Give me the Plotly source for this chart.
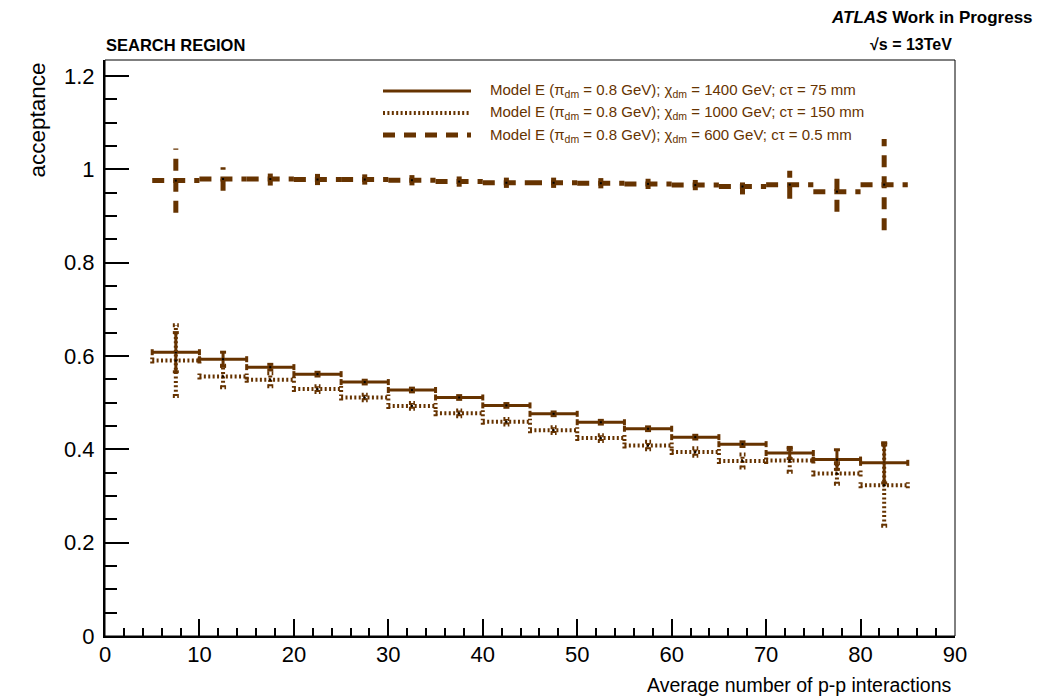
import plotly.graph_objects as go

# ---- data: acceptance vs. average pile-up, 5-wide bins ----
bin_centers = [7.5, 12.5, 17.5, 22.5, 27.5, 32.5, 37.5, 42.5,
               47.5, 52.5, 57.5, 62.5, 67.5, 72.5, 77.5, 82.5]
bin_half_width = 2.5

acc_1400 = [0.608, 0.593, 0.576, 0.561, 0.544, 0.527, 0.511, 0.494,
            0.476, 0.458, 0.444, 0.426, 0.411, 0.392, 0.378, 0.371]
err_1400 = [0.042, 0.015, 0.006, 0.004, 0.004, 0.004, 0.004, 0.004,
            0.004, 0.004, 0.004, 0.004, 0.005, 0.012, 0.021, 0.043]

acc_1000 = [0.590, 0.556, 0.549, 0.529, 0.511, 0.493, 0.477, 0.459,
            0.441, 0.424, 0.408, 0.394, 0.375, 0.376, 0.348, 0.323]
err_1000 = [0.076, 0.023, 0.014, 0.006, 0.006, 0.006, 0.006, 0.006,
            0.006, 0.006, 0.008, 0.008, 0.014, 0.024, 0.022, 0.087]

acc_600 = [0.9756, 0.979, 0.979, 0.978, 0.978, 0.9764, 0.9735, 0.971,
           0.971, 0.970, 0.9686, 0.966, 0.963, 0.967, 0.952, 0.967]
err_600 = [0.069, 0.025, 0.014, 0.012, 0.011, 0.011, 0.011, 0.011,
           0.011, 0.011, 0.011, 0.011, 0.017, 0.030, 0.043, 0.098]

legend_labels = [
    "Model E (\u03c0<sub>dm</sub> = 0.8 GeV); \u03c7<sub>dm</sub> = 1400 GeV; c\u03c4 = 75 mm",
    "Model E (\u03c0<sub>dm</sub> = 0.8 GeV); \u03c7<sub>dm</sub> = 1000 GeV; c\u03c4 = 150 mm",
    "Model E (\u03c0<sub>dm</sub> = 0.8 GeV); \u03c7<sub>dm</sub> = 600 GeV; c\u03c4 = 0.5 mm",
]

x_range = [0, 90]
y_range = [0, 1.234]

# ---- page geometry (pixels) ----
W, H = 1063, 700
L, R, T, B = 105, 955, 60, 636
BROWN = "#663300"
FONT = "Liberation Sans, Arial, Helvetica, sans-serif"

cap_x = 3.0 * (x_range[1] - x_range[0]) / (R - L)
cap_y = 3.0 * (y_range[1] - y_range[0]) / (B - T)


def px_x(px):
    return (px - L) / (R - L)


def px_y(py):
    return (B - py) / (B - T)


def error_cross(values, errors, caps):
    """Histogram-style error crosses as one broken polyline."""
    xs, ys = [], []
    for c, v, e in zip(bin_centers, values, errors):
        xs += [c - bin_half_width, c + bin_half_width, None]
        ys += [v, v, None]
        xs += [c, c, None]
        ys += [v - e, v + e, None]
        if caps:
            for xe in (c - bin_half_width, c + bin_half_width):
                xs += [xe, xe, None]
                ys += [v - cap_y, v + cap_y, None]
            for ye in (v - e, v + e):
                xs += [c - cap_x, c + cap_x, None]
                ys += [ye, ye, None]
    return xs, ys


series = [
    (acc_1400, err_1400, True, dict(width=3, dash="solid")),
    (acc_1000, err_1000, True, dict(width=4, dash="2px,2.4px")),
    (acc_600, err_600, False, dict(width=5, dash="12px,9px")),
]

fig = go.Figure()
for vals, errs, caps, style in series:
    xs, ys = error_cross(vals, errs, caps)
    fig.add_trace(go.Scatter(
        x=xs, y=ys, mode="lines", connectgaps=False,
        line=dict(color=BROWN, **style), hoverinfo="skip", showlegend=False))
    fig.add_trace(go.Scatter(
        x=bin_centers, y=vals, mode="markers",
        marker=dict(color="black", size=2, symbol="square"),
        hoverinfo="skip", showlegend=False))

# ---- legend drawn by hand (long line samples) ----
legend_rows = [91, 113, 135]
for (vals, errs, caps, style), label, row in zip(series, legend_labels, legend_rows):
    fig.add_shape(type="line", xref="paper", yref="paper",
                  x0=px_x(383), x1=px_x(471), y0=px_y(row), y1=px_y(row),
                  line=dict(color=BROWN, **style))
    fig.add_annotation(text=label, xref="paper", yref="paper",
                       x=px_x(488), y=px_y(row), xanchor="left", yanchor="middle",
                       showarrow=False, font=dict(family=FONT, size=15, color=BROWN))

# ---- frame ----
fig.add_shape(type="rect", xref="paper", yref="paper", x0=0, x1=1, y0=0, y1=1,
              line=dict(color="black", width=1), layer="above")

# ---- header texts ----
fig.add_annotation(text="<b><i>ATLAS</i> Work in Progress</b>", xref="paper", yref="paper",
                   x=px_x(1035), y=px_y(17), xanchor="right", yanchor="middle",
                   showarrow=False, font=dict(family=FONT, size=17, color="black"))
fig.add_annotation(text="<b>\u221as = 13TeV</b>", xref="paper", yref="paper",
                   x=px_x(954), y=px_y(44), xanchor="right", yanchor="middle",
                   showarrow=False, font=dict(family=FONT, size=16, color="black"))
fig.add_annotation(text="<b>SEARCH REGION</b>", xref="paper", yref="paper",
                   x=px_x(104), y=px_y(45), xanchor="left", yanchor="middle",
                   showarrow=False, font=dict(family=FONT, size=16.5, color="black"))

# ---- axis titles (right/top aligned) ----
fig.add_annotation(text="acceptance", xref="paper", yref="paper", textangle=-90,
                   x=px_x(37), y=px_y(61), xanchor="center", yanchor="top",
                   showarrow=False, font=dict(family=FONT, size=22.5, color="black"))
fig.add_annotation(text="Average number of p-p interactions", xref="paper", yref="paper",
                   x=px_x(953), y=px_y(685), xanchor="right", yanchor="middle",
                   showarrow=False, font=dict(family=FONT, size=19.5, color="black"))

fig.update_layout(
    width=W, height=H,
    margin=dict(l=L, r=W - R, t=T, b=H - B, pad=0),
    paper_bgcolor="white", plot_bgcolor="white",
    hovermode=False,
    font=dict(family=FONT, color="black"),
    xaxis=dict(
        range=x_range, dtick=10, tick0=0,
        showgrid=False, zeroline=False,
        showline=True, linecolor="black", linewidth=2,
        ticks="inside", ticklen=17, tickwidth=1.5, tickcolor="black",
        minor=dict(ticks="inside", ticklen=8, dtick=2, tickwidth=1.5,
                   tickcolor="black", showgrid=False),
        tickfont=dict(family=FONT, size=22),
        ticklabelstandoff=-2,
    ),
    yaxis=dict(
        range=y_range, dtick=0.2, tick0=0,
        showgrid=False, zeroline=False,
        showline=True, linecolor="black", linewidth=2,
        ticks="inside", ticklen=24, tickwidth=1.5, tickcolor="black",
        minor=dict(ticks="inside", ticklen=12, dtick=0.05, tickwidth=1.5,
                   tickcolor="black", showgrid=False),
        tickfont=dict(family=FONT, size=22),
        ticklabelstandoff=4,
    ),
)

fig.write_html("out.html", config={"displayModeBar": False})
